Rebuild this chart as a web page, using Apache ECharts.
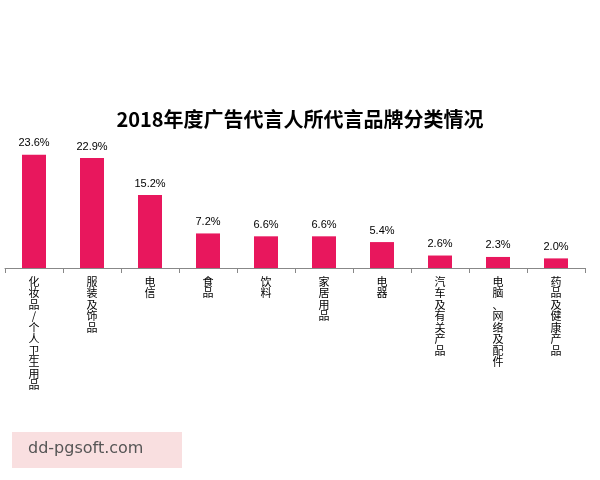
<!DOCTYPE html>
<html>
<head>
<meta charset="utf-8">
<script src="https://cdn.jsdelivr.net/npm/echarts@6/dist/echarts.min.js"></script>
<style>html,body{margin:0;padding:0;background:#fff}#chart{width:600px;height:480px}</style>
</head>
<body>
<div id="chart"></div>
<script>
var categories = ['化妆品/个人卫生用品', '服装及饰品', '电信', '食品', '饮料', '家居用品', '电器', '汽车及有关产品', '电脑、网络及配件', '药品及健康产品'];
var values = [23.6, 22.9, 15.2, 7.2, 6.6, 6.6, 5.4, 2.6, 2.3, 2.0];

var myChart = echarts.init(document.getElementById('chart'));
var option = {
    title: {
        text: '2018年度广告代言人所代言品牌分类情况',
        left: 'center',
        top: 104,
        textStyle: {fontSize: 20, fontWeight: 'bold', color: '#000', fontFamily: 'Noto Sans CJK SC'}
    },
    grid: {left: 5, right: 15, top: 148, height: 120, containLabel: false},
    xAxis: {
        type: 'category',
        data: categories,
        axisLine: {lineStyle: {color: '#888'}},
        axisTick: {show: true, interval: 0, lineStyle: {color: '#888'}},
        axisLabel: {
            interval: 0,
            verticalAlign: 'top',
            lineHeight: 11.5,
            fontSize: 11,
            color: '#000',
            fontFamily: 'Noto Sans CJK SC',
            formatter: function (v) { return v.split('').join('\n'); }
        }
    },
    yAxis: {type: 'value', min: 0, max: 25, show: false},
    series: [{
        type: 'bar',
        data: values,
        barWidth: 24,
        itemStyle: {color: '#e8175d'},
        label: {
            show: true, position: 'top', fontSize: 11, color: '#000', distance: 6,
            formatter: function (p) { return p.value.toFixed(1) + '%'; }
        }
    }],
    graphic: [
        {type: 'rect', left: 12, top: 432, shape: {width: 170, height: 36}, style: {fill: '#f9dfe0'}},
        {type: 'text', left: 28, top: 441, style: {text: 'dd-pgsoft.com', fontSize: 16, fill: '#555', fontFamily: 'DejaVu Sans'}}
    ]
};
myChart.setOption(option);
</script>
</body>
</html>
